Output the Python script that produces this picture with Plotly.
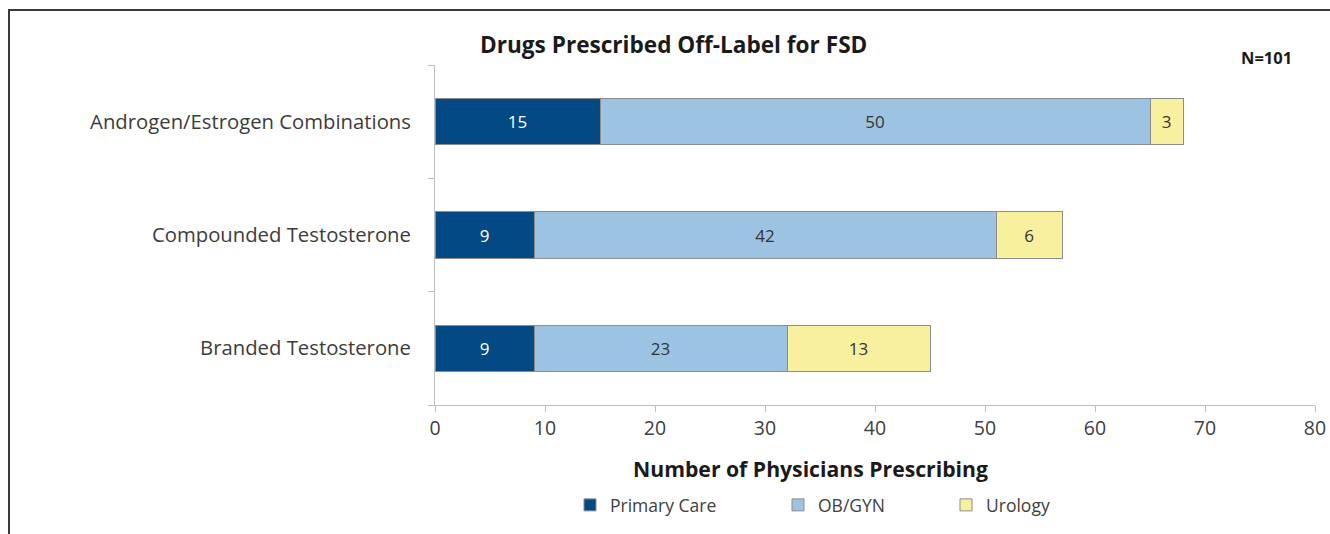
import plotly.graph_objects as go

# Drug categories, listed bottom-to-top as they appear on the y axis
categories = ["Branded Testosterone", "Compounded Testosterone", "Androgen/Estrogen Combinations"]

# Physicians prescribing, by specialty
primary_care = [9, 9, 15]
ob_gyn = [23, 42, 50]
urology = [13, 6, 3]

series_names = ["Primary Care", "OB/GYN", "Urology"]
series_values = [primary_care, ob_gyn, urology]
series_colors = ["#034A84", "#9DC3E3", "#F8F09E"]
label_colors = ["#FFFFFF", "#333333", "#333333"]

x_ticks = [0, 10, 20, 30, 40, 50, 60, 70, 80]

FONT = "Open Sans, Lato, sans-serif"
W, H = 1330, 534
L, R, T, B = 435, 15, 65, 129
PW, PH = W - L - R, H - T - B


def px_x(px):
    """Horizontal page pixel -> paper fraction."""
    return (px - L) / PW


def px_y(py):
    """Vertical page pixel (from top) -> paper fraction."""
    return (H - B - py) / PH


fig = go.Figure()
legend_ids = ["legend", "legend2", "legend3"]
for name, vals, color, tcolor, leg in zip(series_names, series_values, series_colors, label_colors, legend_ids):
    fig.add_trace(go.Bar(
        y=categories,
        x=vals,
        name=name,
        orientation="h",
        marker=dict(color=color, line=dict(color="#8C8C8C", width=1)),
        text=[str(v) for v in vals],
        textposition="inside",
        insidetextanchor="middle",
        textangle=0,
        textfont=dict(family=FONT, size=17, color=tcolor),
        legend=leg,
        hoverinfo="x+y+name",
    ))

legend_style = dict(
    orientation="h",
    xref="container",
    yref="container",
    yanchor="middle",
    xanchor="left",
    font=dict(family=FONT, size=17.5, color="#404040"),
    bgcolor="rgba(0,0,0,0)",
    itemwidth=30,
    tracegroupgap=0,
)
legend_px = [570, 778, 946]
legend_y = (H - 505) / H

fig.update_layout(
    width=W,
    height=H,
    margin=dict(l=L, r=R, t=T, b=B, autoexpand=False),
    plot_bgcolor="white",
    paper_bgcolor="white",
    barmode="stack",
    bargap=0.59,
    showlegend=True,
    legend=dict(x=legend_px[0] / W, y=legend_y, **legend_style),
    legend2=dict(x=legend_px[1] / W, y=legend_y, **legend_style),
    legend3=dict(x=legend_px[2] / W, y=legend_y, **legend_style),
    xaxis=dict(
        range=[0, 80],
        tickvals=x_ticks,
        ticktext=[str(t) for t in x_ticks],
        showgrid=False,
        zeroline=False,
        showline=True,
        linecolor="#BFBFBF",
        linewidth=1,
        ticks="outside",
        ticklen=6,
        tickcolor="#BFBFBF",
        tickfont=dict(family=FONT, size=19.5, color="#404040"),
        fixedrange=True,
    ),
    yaxis=dict(
        type="category",
        categoryorder="array",
        categoryarray=categories,
        range=[-0.5, 2.5],
        showgrid=False,
        zeroline=False,
        showline=True,
        linecolor="#BFBFBF",
        linewidth=1,
        ticks="outside",
        tickson="boundaries",
        ticklen=6,
        tickcolor="#BFBFBF",
        ticklabelstandoff=19,
        tickfont=dict(family=FONT, size=20.3, color="#3C3C3C"),
        fixedrange=True,
    ),
    annotations=[
        dict(
            text="<b>Drugs Prescribed Off-Label for FSD</b>",
            xref="paper", yref="paper",
            x=px_x(673), y=px_y(44),
            xanchor="center", yanchor="middle",
            showarrow=False,
            font=dict(family=FONT, size=22.6, color="#1A1A1A"),
        ),
        dict(
            text="<b>N=101</b>",
            xref="paper", yref="paper",
            x=px_x(1266), y=px_y(57),
            xanchor="center", yanchor="middle",
            showarrow=False,
            font=dict(family=FONT, size=16.5, color="#1A1A1A"),
        ),
        dict(
            text="<b>Number of Physicians Prescribing</b>",
            xref="paper", yref="paper",
            x=px_x(810), y=px_y(468),
            xanchor="center", yanchor="middle",
            showarrow=False,
            font=dict(family=FONT, size=21.2, color="#1A1A1A"),
        ),
    ],
    shapes=[
        # outer chart frame (top and left edges visible)
        dict(
            type="rect",
            xref="paper", yref="paper",
            x0=px_x(9), x1=px_x(1345),
            y0=px_y(550), y1=px_y(10),
            line=dict(color="#3A3A3A", width=2),
            fillcolor="rgba(0,0,0,0)",
            layer="below",
        ),
    ],
)

fig.write_html("out.html")
